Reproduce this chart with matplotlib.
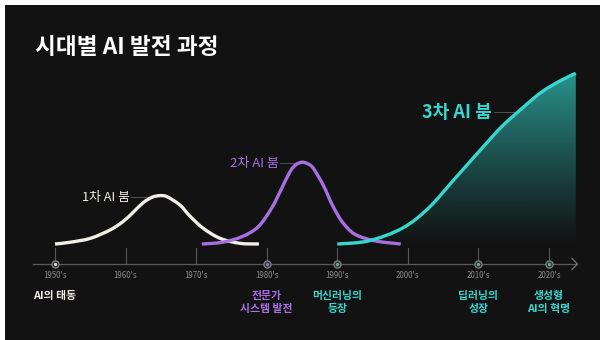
import matplotlib
matplotlib.use("Agg")
import matplotlib.pyplot as plt
import numpy as np
from matplotlib.patches import Rectangle, PathPatch
from matplotlib.path import Path

plt.rcParams['font.family'] = ['Noto Sans CJK KR', 'DejaVu Sans']

# ---------------- data ----------------
title = "시대별 AI 발전 과정"
decades = [1950, 1960, 1970, 1980, 1990, 2000, 2010, 2020]
decade_labels = ["1950's", "1960's", "1970's", "1980's", "1990's", "2000's", "2010's", "2020's"]

event_years = [1950, 1980, 1990, 2010, 2020]
event_labels = [["AI의 태동"], ["전문가", "시스템 발전"], ["머신러닝의", "등장"], ["딥러닝의", "성장"], ["생성형", "AI의 혁명"]]
event_kind = ["w", "p", "t", "t", "t"]

boom_labels = ["1차 AI 붐", "2차 AI 붐", "3차 AI 붐"]

white_x = [1950.0, 1952.1, 1955.0, 1957.8, 1959.6, 1961.1, 1962.5, 1963.8, 1964.9, 1965.9, 1967.7, 1969.1, 1971.0, 1973.4, 1976.2, 1978.9]
white_y = [0.0, 1.0, 3.3, 8.2, 13.0, 18.6, 24.2, 27.4, 28.3, 27.6, 22.8, 16.4, 9.2, 3.3, 0.4, 0.0]

purple_x = [1970.8, 1973.7, 1976.5, 1978.8, 1980.7, 1981.9, 1983.3, 1984.2, 1985.0, 1985.8, 1986.6, 1988.0, 1989.3, 1990.7, 1992.5, 1995.4, 1999.0]
purple_y = [0.0, 1.0, 4.3, 10.1, 21.0, 30.6, 42.3, 46.5, 47.8, 47.0, 44.3, 34.5, 22.8, 13.0, 5.7, 1.8, 0.0]

teal_x = [1990.0, 1994.4, 1999.2, 2002.9, 2006.7, 2010.5, 2013.3, 2016.2, 2019.0, 2021.8, 2023.8]
teal_y = [0.0, 1.8, 9.2, 20.9, 38.4, 56.0, 68.6, 79.4, 89.0, 95.9, 99.8]

# ---------------- style ----------------
BG = '#121212'
WHITE = '#f1eee8'
PURPLE = '#a66fe2'
TEAL = '#38d6ce'
GRID = '#5a5a5a'

W, H = 600, 340
fig = plt.figure(figsize=(6, 3.4), dpi=100, facecolor='white')

def fx(px):
    return px / W

def fy(py):
    return 1 - py / H

# dark panel
fig.patches.append(Rectangle((fx(5), 0), 1 - fx(5), fy(5), transform=fig.transFigure,
                             facecolor=BG, edgecolor='none', zorder=0))

ax = fig.add_axes([0, 0, 1, 1])
ax.set_zorder(2)
ax.set_facecolor('none')
ax.axis('off')
# pixel -> data mapping: 1950 at px 55, 7.057 px / yr ; value 0 at py 244, 1.71 px / unit
PXY = 7.057
PXV = 1.71
XL = (1950 - 55 / PXY, 1950 + (W - 55) / PXY)
YL = (-(H - 244) / PXV, 244 / PXV)

def dx(px):
    return 1950 + (px - 55) / PXY

def dy(py):
    return (244 - py) / PXV


def smooth_path_verts(xs, ys):
    """Cubic Bezier (Catmull-Rom style) path through the read points, drawn by matplotlib."""
    P = np.column_stack([xs, ys]).astype(float)
    n = len(P)
    verts = [P[0]]
    codes = [Path.MOVETO]
    for i in range(n - 1):
        p0 = P[i - 1] if i > 0 else P[i]
        p1 = P[i]
        p2 = P[i + 1]
        p3 = P[i + 2] if i + 2 < n else P[i + 1]
        c1 = p1 + (p2 - p0) / 6.0
        c2 = p2 - (p3 - p1) / 6.0
        verts += [c1, c2, p2]
        codes += [Path.CURVE4] * 3
    return verts, codes


def smooth_line(xs, ys, color, lw=2.4):
    v, c = smooth_path_verts(xs, ys)
    patch = PathPatch(Path(v, c), facecolor='none', edgecolor=color, lw=lw,
                      capstyle='butt', joinstyle='round', zorder=3)
    ax.add_patch(patch)
    return v, c

# axis line and arrow
axis_y = dy(264)
ax.plot([dx(33), dx(577)], [axis_y, axis_y], color=GRID, lw=0.9, zorder=1)
ax.plot([dx(572), dx(577.5), dx(572)], [dy(258.5), axis_y, dy(269.5)], color='#777777', lw=0.9,
        solid_joinstyle='miter', zorder=1)

# decade ticks and labels
for d, lab in zip(decades, decade_labels):
    ax.plot([d, d], [dy(248), axis_y], color=GRID, lw=0.8, zorder=1)
    ax.text(d, dy(276), lab, color='#8c8c8c', fontsize=5.7, ha='center', va='center', zorder=3)

# event markers and labels
kind_col = {"w": WHITE, "p": PURPLE, "t": TEAL}
dot_col = {"w": '#e8e8e8', "p": '#8f7ab0', "t": '#6fa9a4'}
for yr, lines, k in zip(event_years, event_labels, event_kind):
    ax.plot([yr], [axis_y], marker='o', ms=5.2, mfc='#3a3a3a', mec='#8a8a8a', mew=0.8, zorder=4)
    ax.plot([yr], [axis_y], marker='o', ms=2.2, mfc=dot_col[k], mec='none', zorder=5)
    for i, line in enumerate(lines):
        ax.text(yr, dy(296 + 13 * i), line, color=kind_col[k], fontsize=7.8, fontweight='bold',
                ha='center', va='center', zorder=3)

# teal gradient fill (clipped to region under the smooth curve)
tv, tcodes = smooth_path_verts(teal_x, teal_y)
clip_v = list(tv) + [np.array([teal_x[-1], 0.0]), np.array([teal_x[0], 0.0]), np.array([teal_x[0], 0.0])]
clip_c = list(tcodes) + [Path.LINETO, Path.LINETO, Path.CLOSEPOLY]
clip_path = Path(clip_v, clip_c)
grad = np.linspace(0, 1, 256)
rgba = np.zeros((256, 1, 4))
tc = matplotlib.colors.to_rgb('#2fb3ac')
rgba[:, 0, 0] = tc[0]
rgba[:, 0, 1] = tc[1]
rgba[:, 0, 2] = tc[2]
rgba[:, 0, 3] = (grad ** 1.1) * 0.8
im = ax.imshow(rgba, extent=[teal_x[0], teal_x[-1], dy(246), teal_y[-1]], origin='lower',
               aspect='auto', zorder=1, interpolation='bilinear')
im.set_clip_path(clip_path, transform=ax.transData)

# curves
smooth_line(white_x, white_y, WHITE)
smooth_line(purple_x, purple_y, PURPLE)
smooth_line(teal_x, teal_y, TEAL)

# boom labels with leader lines
ax.text(dx(130), dy(197), boom_labels[0], color=WHITE, fontsize=9.2, ha='right', va='center', zorder=3)
ax.plot([dx(131), dx(150)], [dy(196.5), dy(196.5)], color='#6a6a6a', lw=0.5, zorder=2)
ax.text(dx(279), dy(163), boom_labels[1], color=PURPLE, fontsize=9.4, ha='right', va='center', zorder=3)
ax.plot([dx(280), dx(299)], [dy(162.5), dy(162.5)], color='#6a6a6a', lw=0.5, zorder=2)
ax.text(dx(492), dy(112), boom_labels[2], color=TEAL, fontsize=13, fontweight='bold', ha='right', va='center', zorder=3)
ax.plot([dx(494), dx(514)], [dy(111.5), dy(111.5)], color='#6a6a6a', lw=0.5, zorder=2)

ax.set_xlim(*XL)
ax.set_ylim(*YL)

# title
fig.text(fx(35), fy(48), title, color='white', fontsize=16.3, fontweight='bold', ha='left', va='center', zorder=5)

fig.savefig('out.png', dpi=100, facecolor='white')
